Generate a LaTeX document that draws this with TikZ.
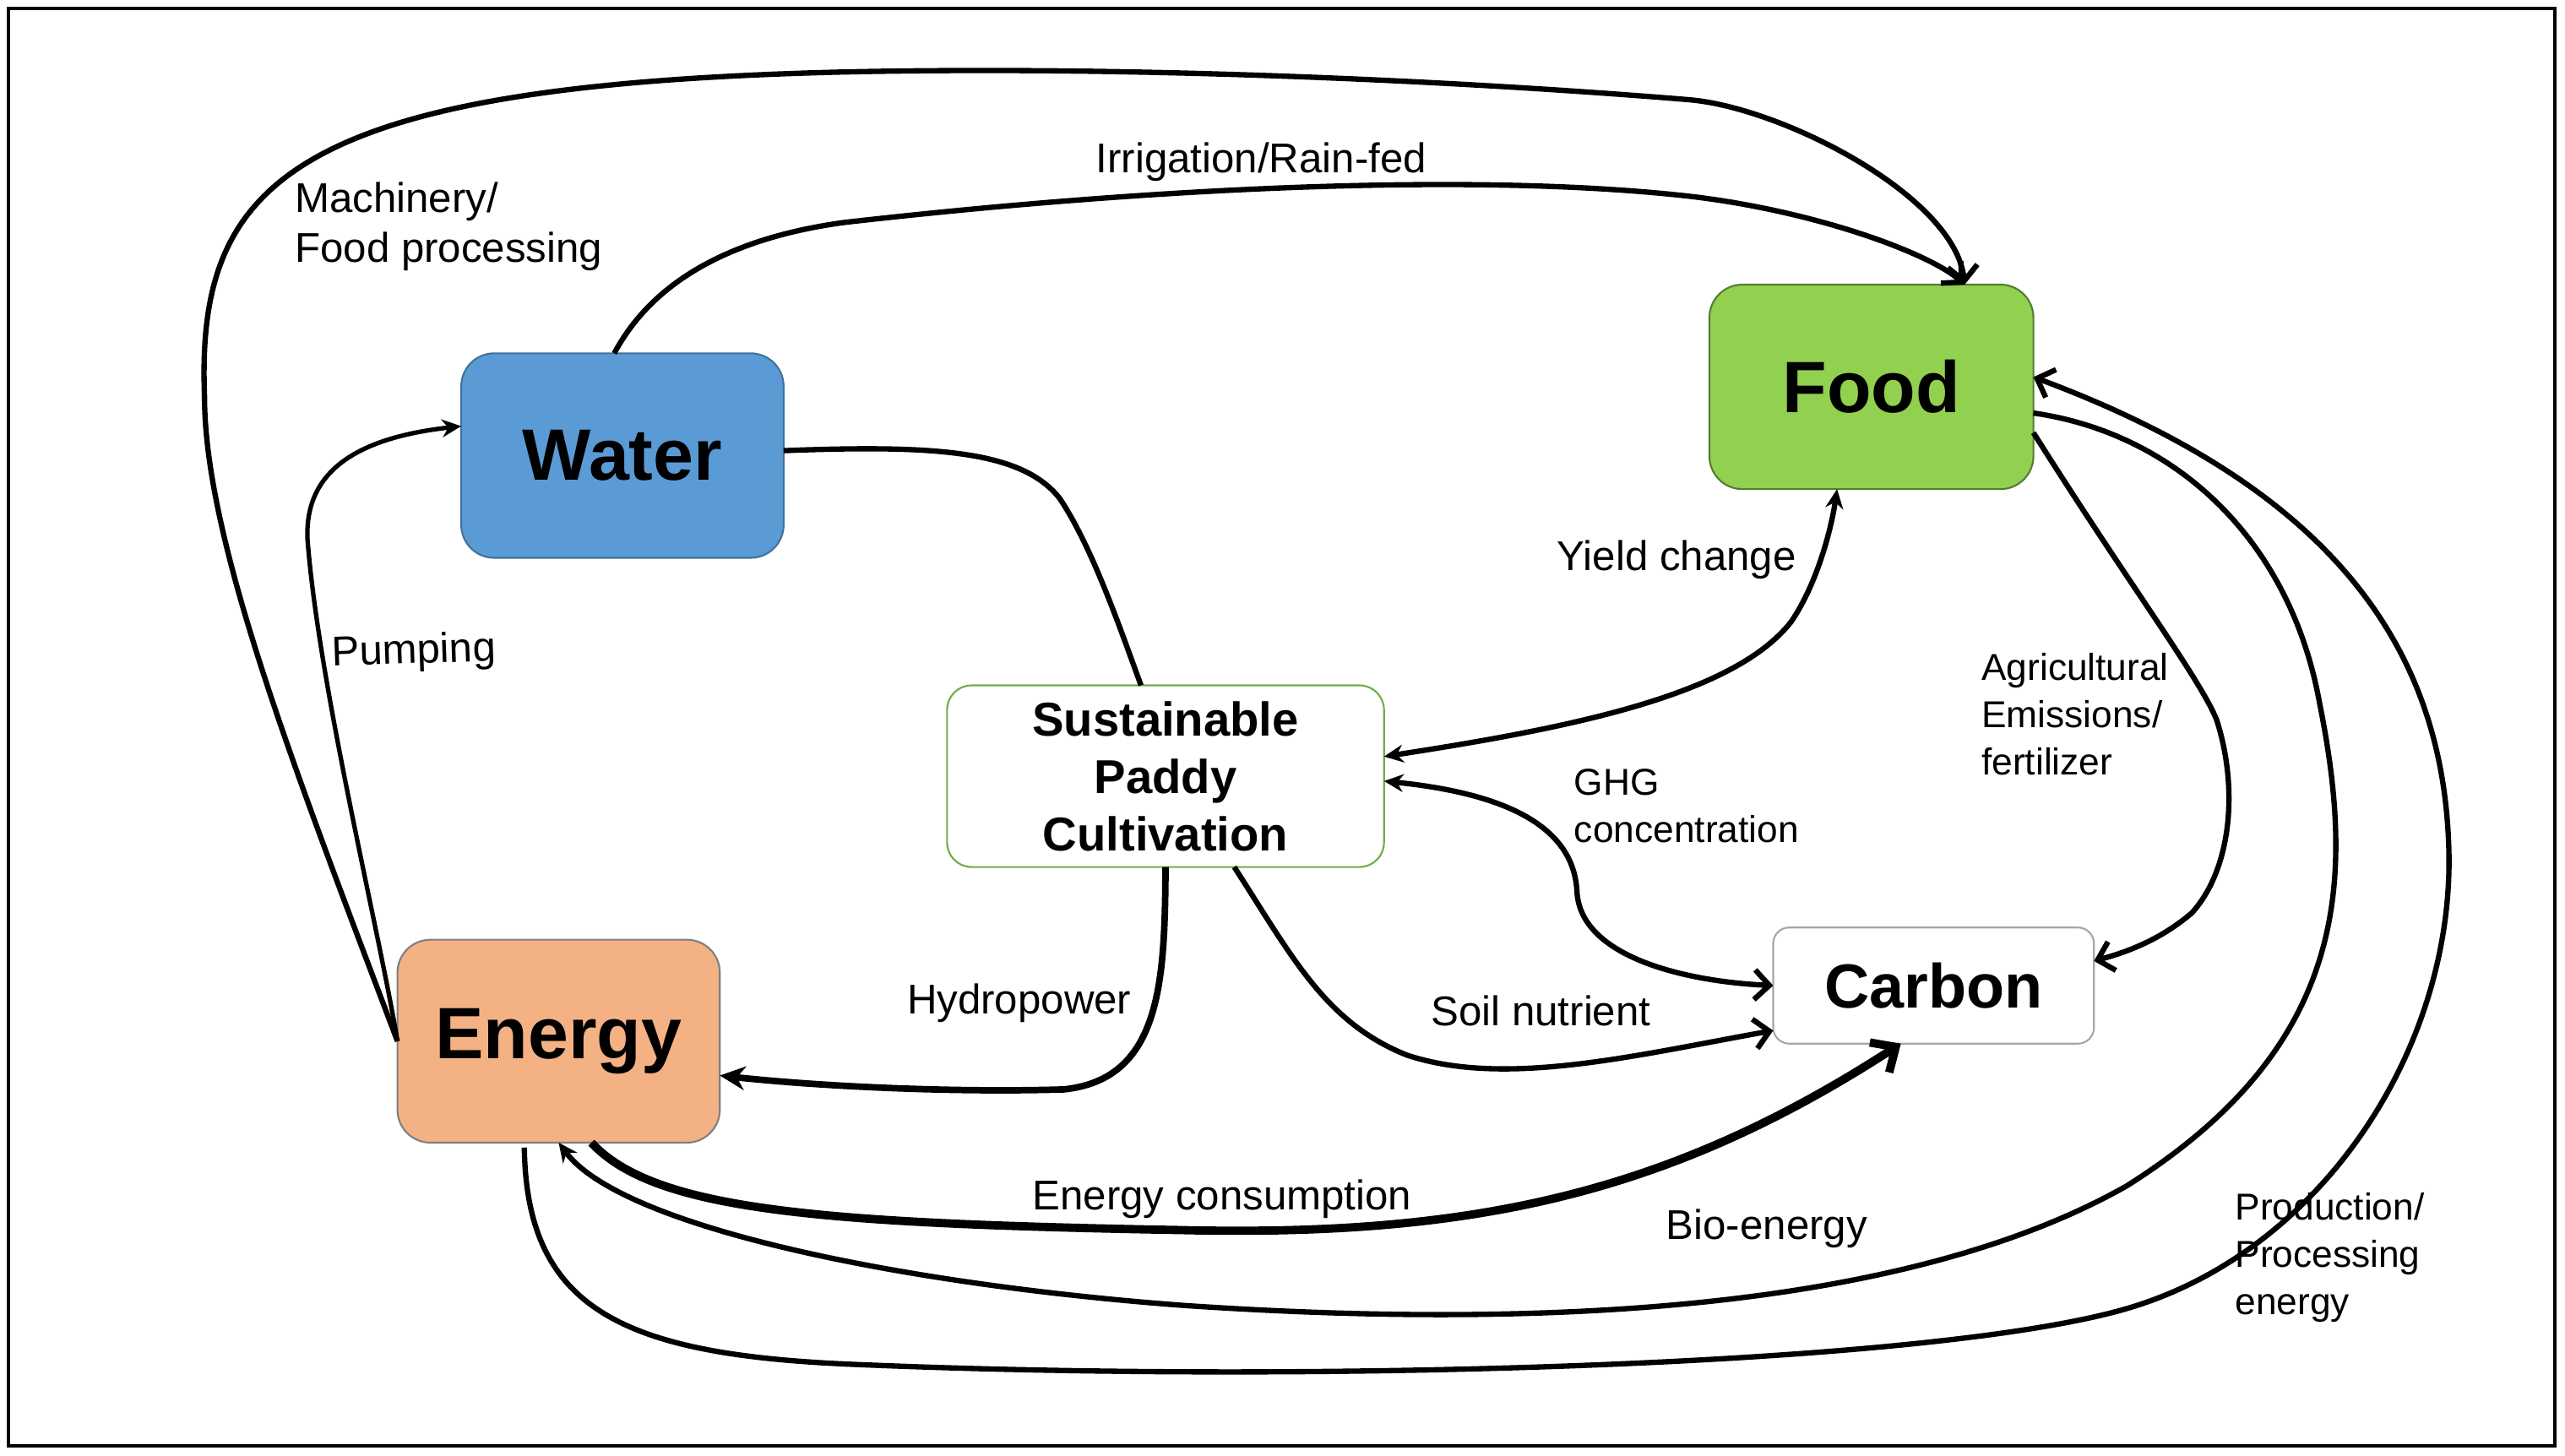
\documentclass[tikz,border=0pt]{standalone}
\usepackage{fontspec}
\setmainfont{Liberation Sans}
\usetikzlibrary{arrows.meta,calc}
\newcommand{\upx}{0.01937cm}
\definecolor{waterfill}{HTML}{5B9BD5}
\definecolor{waterdraw}{HTML}{41719C}
\definecolor{foodfill}{HTML}{92D050}
\definecolor{fooddraw}{HTML}{507E32}
\definecolor{energyfill}{HTML}{F4B183}
\definecolor{energydraw}{HTML}{7F7F7F}
\definecolor{spcdraw}{HTML}{70AD47}
\definecolor{carbondraw}{HTML}{A6A6A6}
\tikzset{
  Vb/.tip={Straight Barb[length=5pt,width=10pt]},
  BigV/.tip={Straight Barb[length=6.5pt,width=12pt]},
  SmallS/.tip={Stealth[length=6.5pt,width=6pt]},
  BigS/.tip={Stealth[length=8.5pt,width=8pt]},
}
\begin{document}
\begin{tikzpicture}[x=\upx,y=-\upx,
  lbl/.style={font=\fontsize{14}{16.8}\selectfont, inner sep=0pt},
  lblml/.style={font=\fontsize{14}{16.8}\selectfont, inner sep=0pt, align=left, anchor=north west},
  lbls/.style={font=\fontsize{12.6}{15.9}\selectfont, inner sep=0pt, align=left, anchor=north west},
  conn/.style={line width=1.8pt},
  hub/.style={rounded corners=0.39cm, inner sep=0pt, outer sep=0pt, line width=0.6pt,
    font=\fontsize{24.5}{29}\selectfont\bfseries},
]
% background / bounding box
\fill[white] (0,0) rectangle (1568,890);
\useasboundingbox (0,0) rectangle (1568,890);
\draw[line width=1.1pt] (5,5) rectangle (1562,884);

% boxes
\node[hub, fill=waterfill, draw=waterdraw, minimum width=3.816cm, minimum height=2.421cm] (wa) at (380.5,278.5) {Water};
\node[hub, fill=foodfill, draw=fooddraw, minimum width=3.835cm, minimum height=2.421cm] (fd) at (1144,236.5) {Food};
\node[hub, fill=energyfill, draw=energydraw, minimum width=3.816cm, minimum height=2.402cm] (en) at (341.5,636.5) {Energy};
\node[hub, rounded corners=0.29cm, fill=white, draw=spcdraw, minimum width=5.172cm, minimum height=2.15cm,
  font=\fontsize{16}{19.3}\selectfont\bfseries, align=center] (spc) at (712.5,474.5) {Sustainable\\Paddy\\Cultivation};
\node[hub, rounded corners=0.19cm, fill=white, draw=carbondraw, minimum width=3.797cm, minimum height=1.375cm,
  font=\fontsize{21}{25}\selectfont\bfseries] (cb) at (1182,602.5) {Carbon};

% connectors
% Machinery / Food processing
\draw[conn, -{Vb}] (en.west) .. controls (180,470) and (125,330) .. (125,242)
  .. controls (120,110) and (180,52) .. (516,44)
  .. controls (700,40) and (900,50) .. (1033,61)
  .. controls (1090,66) and (1195,120) .. ($(fd.north)+(57,0)$);
% Irrigation / Rain-fed
\draw[conn, -{Vb}] ($(wa.north)+(-5,0)$) .. controls (400,170) and (450,145) .. (516,136)
  .. controls (700,115) and (900,105) .. (1033,120)
  .. controls (1110,129) and (1180,155) .. ($(fd.north)+(57,0)$);
% Pumping
\draw[line width=1.5pt, -{SmallS}] (en.west) .. controls (232,570) and (195,420) .. (188,330)
  .. controls (186,290) and (215,268) .. ($(wa.west)+(0,-18)$);
% Water -- SPC
\draw[conn] ($(wa.east)+(0,-3)$) .. controls (570,272) and (625,275) .. (648,305)
  .. controls (668,335) and (685,385) .. ($(spc.north)+(-15,0)$);
% Hydropower
\draw[line width=2.2pt, -{BigS}] (spc.south) .. controls (712,600) and (710,660) .. (650,666)
  .. controls (580,668) and (500,664) .. ($(en.east)+(0,21)$);
% Yield change
\draw[conn, {SmallS}-{SmallS}] ($(spc.east)+(0,-12)$) .. controls (960,445) and (1060,425) .. (1095,380)
  .. controls (1112,355) and (1120,320) .. ($(fd.south)+(-21,0)$);
% GHG concentration
\draw[conn, {SmallS}-{Vb}] ($(spc.east)+(0,3)$) .. controls (920,485) and (962,505) .. (964,545)
  .. controls (966,585) and (1030,600) .. (cb.west);
% Soil nutrient
\draw[conn, -{Vb}] ($(spc.south)+(42,0)$) .. controls (790,585) and (810,625) .. (860,645)
  .. controls (920,665) and (1000,645) .. ($(cb.south west)+(0,-8)$);
% Agricultural emissions / fertilizer
\draw[conn, -{Vb}] ($(fd.east)+(0,28)$) .. controls (1300,355) and (1345,415) .. (1355,440)
  .. controls (1368,480) and (1365,530) .. (1340,558)
  .. controls (1320,575) and (1300,582) .. ($(cb.east)+(0,-15)$);
% Bio-energy
\draw[conn, -{SmallS}] ($(fd.east)+(0,16)$) .. controls (1330,265) and (1400,330) .. (1418,430)
  .. controls (1440,540) and (1435,640) .. (1300,725)
  .. controls (1150,810) and (900,810) .. (723,798)
  .. controls (550,785) and (380,750) .. (en.south);
% Production / Processing energy
\draw[conn, -{Vb}] ($(en.south)+(-21,3)$) .. controls (322,800) and (380,828) .. (520,834)
  .. controls (800,846) and (1180,835) .. (1300,800)
  .. controls (1420,765) and (1500,640) .. (1497,520)
  .. controls (1494,400) and (1430,300) .. ($(fd.east)+(0,-6)$);
% Energy consumption
\draw[line width=2.8pt, -{BigV}] ($(en.south)+(20,0)$) .. controls (400,740) and (500,748) .. (723,752)
  .. controls (900,756) and (1020,730) .. ($(cb.south)+(-20,0)$);

% labels
\node[lblml] (lmach) at (180,111) {Machinery/\\Food processing};
\node[lbl] (lirr) at (771,99) {Irrigation/Rain-fed};
\node[lbl, rotate=2] (lpump) at (253,399) {Pumping};
\node[lbl] (lyield) at (1025,342) {Yield change};
\node[lbls] (lghg) at (962,470) {GHG\\concentration};
\node[lbls] (lagr) at (1211,399) {Agricultural\\Emissions/\\fertilizer};
\node[lbl] (lhydro) at (623,613) {Hydropower};
\node[lbl] (lsoil) at (942,618) {Soil nutrient};
\node[lbl] (lcons) at (747,733) {Energy consumption};
\node[lbl] (lbio) at (1080,751) {Bio-energy};
\node[lbls] (lprod) at (1366,729) {Production/\\Processing\\energy};
\end{tikzpicture}
\end{document}
